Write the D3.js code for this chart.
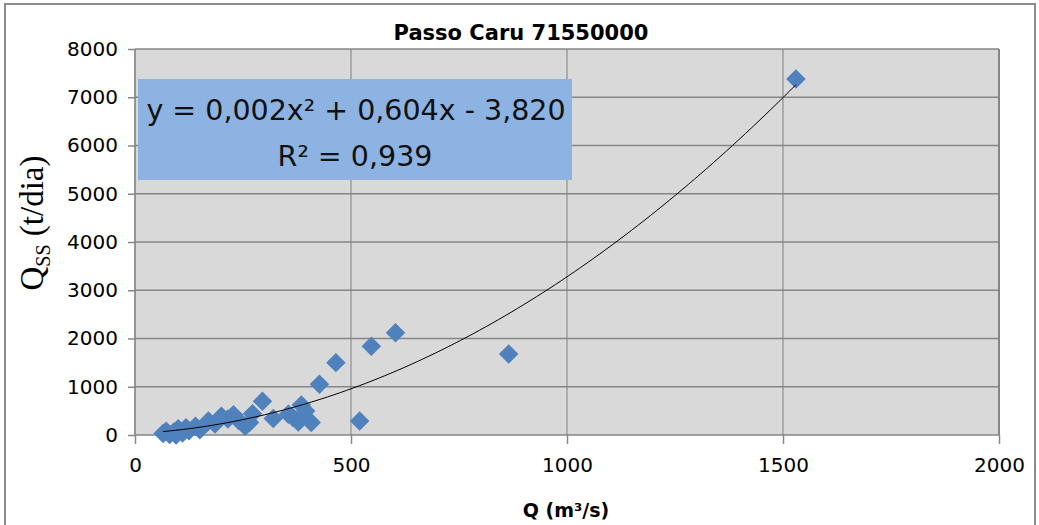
<!DOCTYPE html>
<html>
<head>
<meta charset="utf-8">
<script src="https://cdn.jsdelivr.net/npm/d3@7/dist/d3.min.js"></script>
<style>
  html, body { margin: 0; padding: 0; background: #fff; }
  svg { display: block; }
</style>
</head>
<body>
<svg id="chart" width="1039" height="525"></svg>
<script>
// Discharge Q (m³/s) and suspended sediment load Qss (t/dia), Passo Caru station
const discharge = [65, 72, 80, 90, 95, 100, 110, 118, 125, 140, 150, 170, 185, 200, 215, 228, 240, 255, 265, 272,
                   295, 320, 355, 365, 378, 385, 395, 408, 427, 465, 520, 547, 603, 865, 1530];
const sediment  = [30, 80, 10, 60, 0, 130, 40, 150, 90, 180, 110, 290, 230, 390, 330, 420, 300, 180, 260, 440,
                   700, 340, 430, 370, 270, 620, 500, 260, 1050, 1500, 290, 1840, 2120, 1680, 7380];

const xTicks = [0, 500, 1000, 1500, 2000];
const yTicks = [0, 1000, 2000, 3000, 4000, 5000, 6000, 7000, 8000];

const chartTitle = "Passo Caru 71550000";
const equationText = "y = 0,002x² + 0,604x - 3,820";
const rSquaredText = "R² = 0,939";

const svg = d3.select("#chart");
const font = "'DejaVu Sans', sans-serif";

const plot = { left: 135, right: 999, top: 49, bottom: 435 };

const x = d3.scaleLinear().domain([0, 2000]).range([plot.left, plot.right]);
const y = d3.scaleLinear().domain([0, 8000]).range([plot.bottom, plot.top]);

// outer chart frame
svg.append("rect")
  .attr("x", 5).attr("y", 4).attr("width", 1030).attr("height", 530)
  .attr("fill", "#fff").attr("stroke", "#8c8c8c").attr("stroke-width", 2);

// plot background
svg.append("rect")
  .attr("x", plot.left).attr("y", plot.top)
  .attr("width", plot.right - plot.left).attr("height", plot.bottom - plot.top)
  .attr("fill", "#d9d9d9");

// horizontal gridlines
svg.append("g").selectAll("line").data(yTicks.filter(d => d > 0)).join("line")
  .attr("x1", plot.left).attr("x2", plot.right)
  .attr("y1", d => y(d)).attr("y2", d => y(d))
  .attr("stroke", "#868686").attr("stroke-width", 1.7);

// vertical gridlines
svg.append("g").selectAll("line").data(xTicks.filter(d => d > 0 && d < 2000)).join("line")
  .attr("x1", d => x(d)).attr("x2", d => x(d))
  .attr("y1", plot.top).attr("y2", plot.bottom)
  .attr("stroke", "#868686").attr("stroke-width", 1.1);

// right border of the plot area
svg.append("line")
  .attr("x1", plot.right).attr("x2", plot.right)
  .attr("y1", plot.top).attr("y2", plot.bottom)
  .attr("stroke", "#868686").attr("stroke-width", 2);

// axes
const yAxis = d3.axisLeft(y).tickValues(yTicks).tickSize(7).tickPadding(10).tickFormat(d3.format("d"));
const xAxis = d3.axisBottom(x).tickValues(xTicks).tickSize(9).tickPadding(14).tickFormat(d3.format("d"));

const gy = svg.append("g").attr("transform", `translate(${plot.left},0)`).call(yAxis);
const gx = svg.append("g").attr("transform", `translate(0,${plot.bottom})`).call(xAxis);

[gx, gy].forEach(g => {
  g.select(".domain").attr("stroke", "#868686").attr("stroke-width", 1.7);
  g.selectAll(".tick line").attr("stroke", "#868686").attr("stroke-width", 1.5);
  g.selectAll(".tick text")
    .attr("fill", "#000")
    .style("font-family", font)
    .style("font-size", "20px");
});
gx.select(".domain").attr("d", `M${plot.left},0H${plot.right}`);
gy.select(".domain").attr("d", `M0,${plot.bottom}V${plot.top}`);

// quadratic least-squares trendline fitted to the samples
function quadFit(xs, ys) {
  const n = xs.length;
  let s = [0, 0, 0, 0, 0], t = [0, 0, 0];
  for (let i = 0; i < n; i++) {
    let p = 1;
    for (let k = 0; k < 5; k++) { s[k] += p; p *= xs[i]; }
    t[0] += ys[i]; t[1] += ys[i] * xs[i]; t[2] += ys[i] * xs[i] * xs[i];
  }
  // solve [[s0 s1 s2],[s1 s2 s3],[s2 s3 s4]] * [c b a] = t
  const M = [[s[0], s[1], s[2], t[0]], [s[1], s[2], s[3], t[1]], [s[2], s[3], s[4], t[2]]];
  for (let i = 0; i < 3; i++) {
    for (let j = i + 1; j < 3; j++) {
      const f = M[j][i] / M[i][i];
      for (let k = i; k < 4; k++) M[j][k] -= f * M[i][k];
    }
  }
  const sol = [0, 0, 0];
  for (let i = 2; i >= 0; i--) {
    let v = M[i][3];
    for (let k = i + 1; k < 3; k++) v -= M[i][k] * sol[k];
    sol[i] = v / M[i][i];
  }
  return { c: sol[0], b: sol[1], a: sol[2] };
}

const fit = quadFit(discharge, sediment);
const xMin = d3.min(discharge), xMax = d3.max(discharge);
const curve = d3.range(0, 101).map(i => {
  const q = xMin + (xMax - xMin) * i / 100;
  return [q, fit.a * q * q + fit.b * q + fit.c];
});

// data points (diamonds)
const points = discharge.map((d, i) => ({ q: d, s: sediment[i] }));
svg.append("g").selectAll("path").data(points).join("path")
  .attr("d", d3.symbol().type(d3.symbolSquare).size(190))
  .attr("transform", d => `translate(${x(d.q)},${y(d.s)}) rotate(45)`)
  .attr("fill", "#4f81bd");

svg.append("path")
  .datum(curve)
  .attr("d", d3.line().x(d => x(d[0])).y(d => y(d[1])))
  .attr("fill", "none")
  .attr("stroke", "#000")
  .attr("stroke-width", 1);

// equation box
svg.append("rect")
  .attr("x", 138).attr("y", 79).attr("width", 434).attr("height", 101)
  .attr("fill", "#8db3e2");

svg.append("text")
  .attr("x", 356).attr("y", 120)
  .attr("text-anchor", "middle")
  .style("font-family", font).style("font-size", "28.5px")
  .attr("fill", "#111")
  .text(equationText);

svg.append("text")
  .attr("x", 355).attr("y", 166)
  .attr("text-anchor", "middle")
  .style("font-family", font).style("font-size", "28.5px")
  .attr("fill", "#111")
  .text(rSquaredText);

// title
svg.append("text")
  .attr("x", 521).attr("y", 40)
  .attr("text-anchor", "middle")
  .style("font-family", font).style("font-size", "21px").style("font-weight", "bold")
  .text(chartTitle);

// x-axis title
svg.append("text")
  .attr("x", 566).attr("y", 517)
  .attr("text-anchor", "middle")
  .style("font-family", font).style("font-size", "19px").style("font-weight", "bold")
  .text("Q (m³/s)");

// y-axis title
const yt = svg.append("text")
  .attr("transform", "translate(43,223) rotate(-90)")
  .attr("text-anchor", "middle")
  .style("font-family", "'Liberation Serif', 'Times New Roman', serif")
  .style("font-size", "33px");
yt.append("tspan").text("Q");
yt.append("tspan").attr("dy", 7).style("font-size", "20px").text("SS");
yt.append("tspan").attr("dy", -7).text(" (t/dia)");
</script>
</body>
</html>
